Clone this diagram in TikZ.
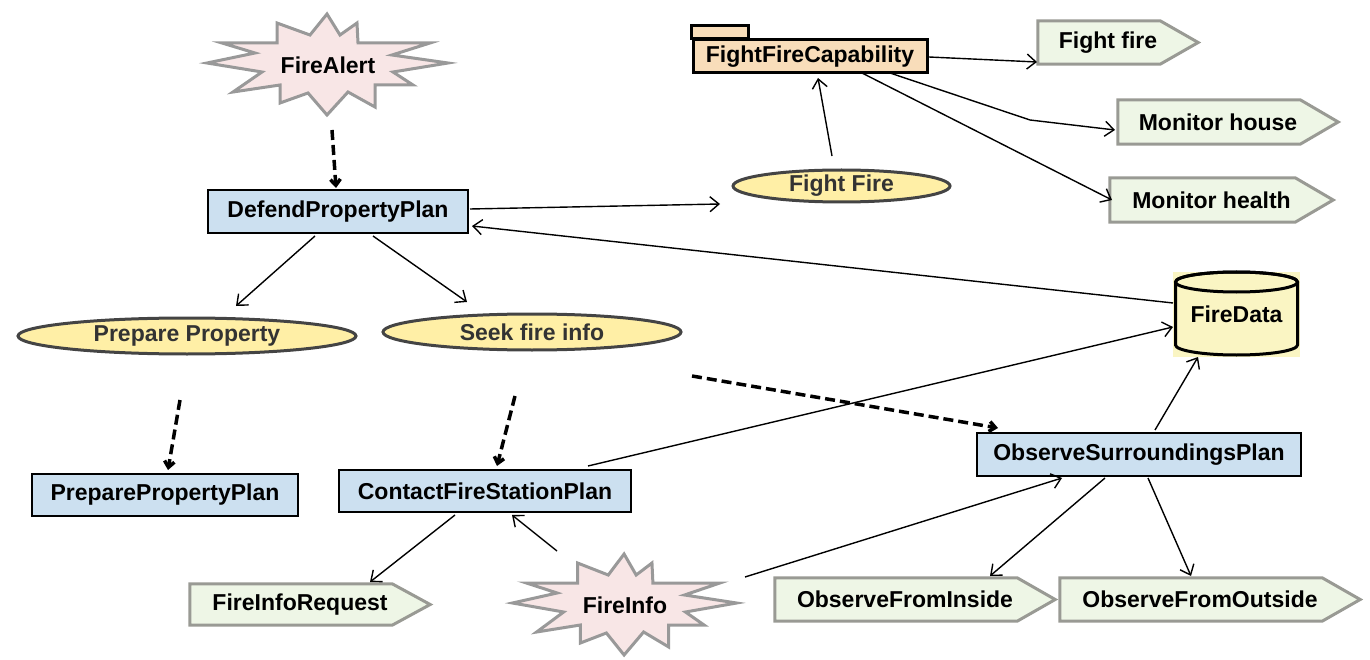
\documentclass[tikz,border=0pt]{standalone}
\usepackage{fontspec}
\setmainfont{Liberation Sans}
\usetikzlibrary{arrows.meta,shapes.geometric,backgrounds}
\definecolor{planblue}{HTML}{CCE0F0}
\definecolor{goalfill}{HTML}{FFEFA6}
\definecolor{goalline}{HTML}{444444}
\definecolor{goaltext}{HTML}{333333}
\definecolor{capfill}{HTML}{F8DDBA}
\definecolor{actfill}{HTML}{EEF6E6}
\definecolor{actline}{HTML}{999A94}
\definecolor{burstfill}{HTML}{F8E6E6}
\definecolor{burstline}{HTML}{999999}
\definecolor{dbfill}{HTML}{FAF5C3}
\newcommand{\burstoutline}{(-1,-51) -- (12,-30) -- (29,-42) -- (30,-22) -- (102,-22) -- (64,-10) -- (120,-2) -- (65,7) -- (85,20) -- (47,20) -- (47,42) -- (20,27) -- (-1,50) -- (-20,28) -- (-48,38) -- (-48,20) -- (-95,27) -- (-66,7) -- (-121,-2) -- (-73,-12) -- (-106,-22) -- (-51,-22) -- (-51,-42) -- (-18,-30) -- cycle}
\newcommand{\actshape}[1]{\draw[actlinestyle] (#1.north west) -- ([xshift=-38pt]#1.north east) -- (#1.east) -- ([xshift=-38pt]#1.south east) -- (#1.south west) -- cycle;}
\begin{document}
\begin{tikzpicture}[x=1pt,y=-1pt,
  font=\fontsize{23}{27}\selectfont\bfseries,
  plan/.style={draw=black, line width=2pt, fill=planblue, inner sep=0pt},
  goal/.style={ellipse, draw=goalline, line width=3pt, fill=goalfill, inner sep=0pt, text=goaltext},
  act/.style={inner sep=0pt, minimum height=43pt},
  actlinestyle/.style={draw=actline, fill=actfill, line width=3pt, line join=miter},
  burst/.style={draw=burstline, fill=burstfill, line width=3pt, line join=miter},
  capbox/.style={draw=black, line width=3pt, fill=capfill, inner sep=0pt},
  dbline/.style={draw=black, line width=3pt, fill=dbfill},
  conn/.style={line width=1.4pt, -{Straight Barb[length=9pt,width=15pt]}},
  dconn/.style={line width=3.5pt, dash pattern=on 10pt off 5pt, -{Straight Barb[length=6pt,width=10pt]}}
]
\useasboundingbox (0,0) rectangle (1370,660);

% events
\node[inner sep=0pt, minimum width=242pt, minimum height=100pt] (fa) at (328,65) {FireAlert};
\node[inner sep=0pt, minimum width=225pt, minimum height=100pt] (fi) at (625,605) {FireInfo};

% plans
\node[plan, minimum width=260pt, minimum height=43pt] (dpp) at (338,212) {DefendPropertyPlan};
\node[plan, minimum width=266pt, minimum height=42pt] (ppp) at (165,495) {PreparePropertyPlan};
\node[plan, minimum width=292pt, minimum height=42pt] (cfsp) at (485,491) {ContactFireStationPlan};
\node[plan, minimum width=324pt, minimum height=43pt] (osp) at (1139,454.5) {ObserveSurroundingsPlan};

% goals
\node[goal, minimum width=338pt, minimum height=36pt] (pp) at (187,336) {Prepare Property};
\node[goal, minimum width=298pt, minimum height=36pt] (sfi) at (532,332) {Seek fire info};
\node[goal, minimum width=217pt, minimum height=32pt] (ffg) at (841.5,186) {Fight Fire};

% capability
\node[capbox, minimum width=234pt, minimum height=33pt] (cap) at (810,56.5) {FightFireCapability};

% data
\node[inner sep=0pt, minimum width=127pt, minimum height=85pt] (fd) at (1236.5,314.5) {\raisebox{-3pt}{FireData}};

% actions
\node[act, minimum width=160pt] (ffa) at (1118,42.5) {Fight fire\hspace*{20pt}};
\node[act, minimum width=220pt, minimum height=44pt] (mh) at (1228,122) {Monitor house\hspace*{20pt}};
\node[act, minimum width=223pt, minimum height=44pt] (mhl) at (1221.5,200) {Monitor health\hspace*{20pt}};
\node[act, minimum width=240pt, minimum height=41pt] (fir) at (310,604.5) {FireInfoRequest\hspace*{20pt}};
\node[act, minimum width=280pt] (ofi) at (915,599.5) {ObserveFromInside\hspace*{20pt}};
\node[act, minimum width=300pt] (ofo) at (1210,599.5) {ObserveFromOutside\hspace*{20pt}};

\begin{scope}[on background layer]
  \begin{scope}[shift={(fa.center)}]
    \draw[burst] \burstoutline;
  \end{scope}
  \begin{scope}[shift={(fi.center)}, xscale=0.93]
    \draw[burst] \burstoutline;
  \end{scope}
  \draw[capbox] (cap.north west) rectangle ([shift={(57,-13)}]cap.north west);
  \fill[dbfill] (fd.north west) rectangle (fd.south east);
  \draw[dbline] ([shift={(-61,-32.5)}]fd.center) -- ([shift={(-61,30.5)}]fd.center)
    arc[start angle=180, end angle=360, x radius=61pt, y radius=10pt]
    -- ([shift={(61,-32.5)}]fd.center)
    arc[start angle=0, end angle=180, x radius=61pt, y radius=10pt] -- cycle;
  \draw[draw=black, line width=3pt] ([shift={(0,-32.5)}]fd.center) ellipse[x radius=61pt, y radius=10pt];
  \actshape{ffa}
  \actshape{mh}
  \actshape{mhl}
  \actshape{fir}
  \actshape{ofi}
  \actshape{ofo}
\end{scope}

% connectors
\draw[dconn] ([shift={(4,65)}]fa.center) -- ([shift={(-2,-24)}]dpp.center);
\draw[conn] ([shift={(132,-3)}]dpp.center) -- ([shift={(-121.5,18)}]ffg.center);
\draw[conn] ([shift={(-9.5,-30)}]ffg.center) -- ([shift={(8,21.5)}]cap.center);
\draw[conn] ([shift={(119,0.5)}]cap.center) -- ([shift={(-81,19.5)}]ffa.center);
\draw[conn] ([shift={(80,16.5)}]cap.center) -- ([shift={(-198,-2)}]mh.center) -- ([shift={(-113,8)}]mh.center);
\draw[conn] ([shift={(52,16.5)}]cap.center) -- ([shift={(-109.5,0)}]mhl.center);
\draw[conn] ([shift={(-63.5,-11.5)}]fd.center) -- ([shift={(134,14)}]dpp.center);
\draw[conn] ([shift={(-23,24)}]dpp.center) -- ([shift={(49,-30)}]pp.center);
\draw[conn] ([shift={(35,24)}]dpp.center) -- ([shift={(-65,-30)}]sfi.center);
\draw[dconn] ([shift={(-7,64)}]pp.center) -- ([shift={(3,-25)}]ppp.center);
\draw[dconn] ([shift={(-17,64)}]sfi.center) -- ([shift={(12,-25)}]cfsp.center);
\draw[dconn] ([shift={(160,44)}]sfi.center) -- ([shift={(-141,-26.5)}]osp.center);
\draw[conn] ([shift={(103,-25)}]cfsp.center) -- ([shift={(-63.5,12.5)}]fd.center);
\draw[conn] ([shift={(16,-24.5)}]osp.center) -- ([shift={(-38.5,42.5)}]fd.center);
\draw[conn] ([shift={(-30,24)}]cfsp.center) -- ([shift={(60,-22.5)}]fir.center);
\draw[conn] ([shift={(-68,-54)}]fi.center) -- ([shift={(27,24)}]cfsp.center);
\draw[conn] ([shift={(120,-28)}]fi.center) -- ([shift={(-77,23.5)}]osp.center);
\draw[conn] ([shift={(-34,23.5)}]osp.center) -- ([shift={(75,-23.5)}]ofi.center);
\draw[conn] ([shift={(9,23.5)}]osp.center) -- ([shift={(-19,-23.5)}]ofo.center);
\end{tikzpicture}
\end{document}
